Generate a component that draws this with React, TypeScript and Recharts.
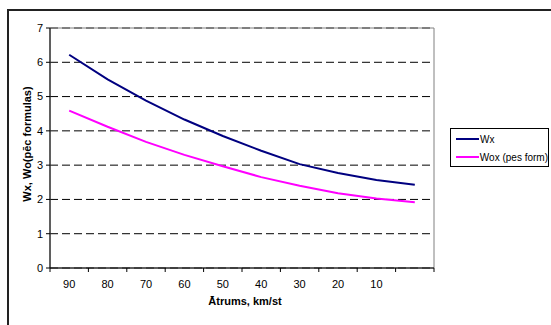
import React from 'react';
import { LineChart, Line, XAxis, YAxis, CartesianGrid, ReferenceArea } from 'recharts';

const speeds = ['90', '80', '70', '60', '50', '40', '30', '20', '10', ''];
const wxValues = [6.22, 5.5, 4.88, 4.33, 3.85, 3.42, 3.03, 2.77, 2.57, 2.43];
const woxValues = [4.59, 4.12, 3.68, 3.3, 2.97, 2.65, 2.4, 2.18, 2.03, 1.92];
const yTicks = [0, 1, 2, 3, 4, 5, 6, 7];

const data = speeds.map((speed, i) => ({ speed, wx: wxValues[i], wox: woxValues[i] }));

const series = [
  { key: 'wx', name: 'Wx', color: '#000080' },
  { key: 'wox', name: 'Wox (pes form)', color: '#ff00ff' },
];

const font = 'Arial, "Liberation Sans", sans-serif';

// Excel style category axis: labels centred, tick marks between categories
function SpeedTick(props: any) {
  const { x, y, payload, index } = props;
  const half = payload && payload.offset ? payload.offset : 19.2;
  return (
    <g>
      <line x1={x - half} y1={y} x2={x - half} y2={y + 4} stroke="#000" />
      {index === speeds.length - 1 && (
        <line x1={x + half} y1={y} x2={x + half} y2={y + 4} stroke="#000" />
      )}
      <text x={x} y={y + 20} textAnchor="middle" fontSize={11} fill="#000" fontFamily={font}>
        {payload.value}
      </text>
    </g>
  );
}

function LegendBox() {
  return (
    <div
      style={{
        position: 'absolute',
        left: 450,
        top: 128,
        width: 97,
        height: 36,
        border: '1px solid #000',
        background: '#fff',
        fontFamily: font,
        fontSize: 10,
        color: '#000',
        paddingTop: 1,
      }}
    >
      {series.map((s) => (
        <div key={s.key} style={{ display: 'flex', alignItems: 'center', height: 18 }}>
          <span
            style={{
              display: 'inline-block',
              width: 23,
              height: 2,
              background: s.color,
              marginLeft: 5,
              marginRight: 1,
            }}
          />
          <span style={{ whiteSpace: 'nowrap' }}>{s.name}</span>
        </div>
      ))}
    </div>
  );
}

export default function App() {
  return (
    <div style={{ position: 'fixed', left: 0, top: 0, width: 551, height: 325, background: '#fff', overflow: 'hidden' }}>
      <div
        style={{
          position: 'absolute',
          left: 7,
          top: 9,
          width: 600,
          height: 400,
          borderTop: '2px solid #222',
          borderLeft: '2px solid #222',
        }}
      />
      <div style={{ position: 'absolute', left: 0, top: 0 }}>
        <LineChart width={551} height={325} data={data} margin={{ top: 28, right: 117, bottom: 27, left: 10 }}>
          <CartesianGrid vertical={false} stroke="#000" strokeDasharray="8 4" />
          <ReferenceArea y1={0} y2={7} fill="none" stroke="#808080" />
          <XAxis
            dataKey="speed"
            scale="band"
            interval={0}
            height={30}
            tickLine={false}
            tickSize={0}
            tickMargin={0}
            axisLine={{ stroke: '#000' }}
            tick={<SpeedTick />}
          />
          <YAxis
            width={40}
            domain={[0, 7]}
            ticks={yTicks}
            interval={0}
            tickSize={4}
            tickMargin={3}
            axisLine={{ stroke: '#000' }}
            tickLine={{ stroke: '#000' }}
            tick={{ fill: '#000', fontSize: 11, fontFamily: font }}
          />
          {series.map((s) => (
            <Line
              key={s.key}
              type="linear"
              dataKey={s.key}
              name={s.name}
              stroke={s.color}
              strokeWidth={2}
              dot={false}
              isAnimationActive={false}
            />
          ))}
        </LineChart>
      </div>
      <LegendBox />
      <div
        style={{
          position: 'absolute',
          left: 245,
          top: 295,
          transform: 'translateX(-50%)',
          fontFamily: font,
          fontSize: 11,
          fontWeight: 'bold',
          whiteSpace: 'nowrap',
          lineHeight: '13px',
        }}
      >
        Ātrums, km/st
      </div>
      <div
        style={{
          position: 'absolute',
          left: 27,
          top: 144,
          transform: 'translate(-50%, -50%) rotate(-90deg)',
          fontFamily: font,
          fontSize: 11,
          fontWeight: 'bold',
          whiteSpace: 'nowrap',
          lineHeight: '13px',
        }}
      >
        Wx, Wo(pēc formulas)
      </div>
    </div>
  );
}
